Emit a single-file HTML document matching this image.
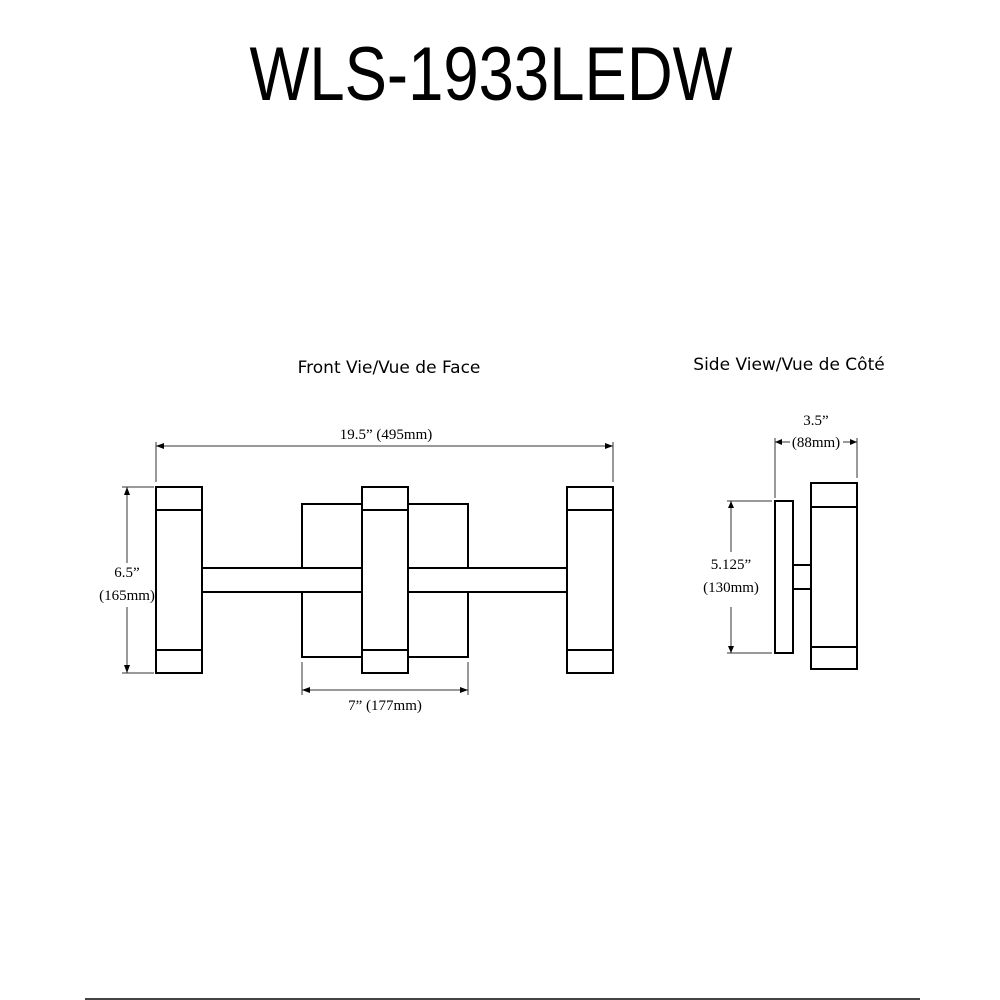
<!DOCTYPE html>
<html><head><style>
html,body{margin:0;padding:0;background:#fff;}
svg{display:block;}
</style></head><body>
<svg width="1000" height="1000" viewBox="0 0 1000 1000" xmlns="http://www.w3.org/2000/svg">
<rect width="1000" height="1000" fill="#fff"/>
<text x="491" y="100" font-family="Liberation Sans, sans-serif" font-size="76" text-anchor="middle" transform="translate(491 0) scale(0.835 1) translate(-491 0)">WLS-1933LEDW</text>
<g font-family="DejaVu Sans, sans-serif" font-size="17" text-anchor="middle">
<text x="389" y="373">Front Vie/Vue de Face</text>
<text x="789" y="370">Side View/Vue de Côté</text>
</g>
<g font-family="Liberation Serif, serif" font-size="15" text-anchor="middle" fill="#000">
<text x="386" y="439">19.5” (495mm)</text>
<text x="127" y="577">6.5”</text>
<text x="127" y="600">(165mm)</text>
<text x="385" y="710">7” (177mm)</text>
<text x="816" y="425">3.5”</text>
<text x="816" y="447">(88mm)</text>
<text x="731" y="569">5.125”</text>
<text x="731" y="592">(130mm)</text>
</g>
<g stroke="#000" stroke-width="2" fill="#fff">
<rect x="302" y="504" width="166" height="153"/>
<rect x="202" y="568" width="365" height="24"/>
<rect x="156" y="487" width="46" height="186"/>
<rect x="362" y="487" width="46" height="186"/>
<rect x="567" y="487" width="46" height="186"/>
<line x1="156" y1="510" x2="202" y2="510"/><line x1="156" y1="650" x2="202" y2="650"/>
<line x1="362" y1="510" x2="408" y2="510"/><line x1="362" y1="650" x2="408" y2="650"/>
<line x1="567" y1="510" x2="613" y2="510"/><line x1="567" y1="650" x2="613" y2="650"/>
<rect x="775" y="501" width="18" height="152"/>
<rect x="793" y="565" width="18" height="24"/>
<rect x="811" y="483" width="46" height="186"/>
<line x1="811" y1="507" x2="857" y2="507"/><line x1="811" y1="647" x2="857" y2="647"/>
</g>
<g stroke="#333" stroke-width="1" fill="none">
<line x1="156" y1="446" x2="613" y2="446"/>
<line x1="156" y1="442" x2="156" y2="482"/><line x1="613" y1="442" x2="613" y2="482"/>
<line x1="127" y1="487" x2="127" y2="563"/><line x1="127" y1="607" x2="127" y2="673"/>
<line x1="122" y1="487" x2="154" y2="487"/><line x1="122" y1="673" x2="154" y2="673"/>
<line x1="302" y1="690" x2="468" y2="690"/>
<line x1="302" y1="662" x2="302" y2="695"/><line x1="468" y1="662" x2="468" y2="695"/>
<line x1="775" y1="442" x2="790" y2="442"/><line x1="843" y1="442" x2="857" y2="442"/>
<line x1="775" y1="438" x2="775" y2="498"/><line x1="857" y1="438" x2="857" y2="478"/>
<line x1="731" y1="501" x2="731" y2="552"/><line x1="731" y1="607" x2="731" y2="653"/>
<line x1="727" y1="501" x2="772" y2="501"/><line x1="727" y1="653" x2="772" y2="653"/>
<line x1="85" y1="999" x2="920" y2="999" stroke="#444" stroke-width="2"/>
</g>
<g fill="#000">
<path d="M156 446 l8 -3 v6 z"/><path d="M613 446 l-8 -3 v6 z"/>
<path d="M127 487 l-3 8 h6 z"/><path d="M127 673 l-3 -8 h6 z"/>
<path d="M302 690 l8 -3 v6 z"/><path d="M468 690 l-8 -3 v6 z"/>
<path d="M775 442 l7 -3 v6 z"/><path d="M857 442 l-7 -3 v6 z"/>
<path d="M731 501 l-3 7 h6 z"/><path d="M731 653 l-3 -7 h6 z"/>
</g>
</svg>
</body></html>
